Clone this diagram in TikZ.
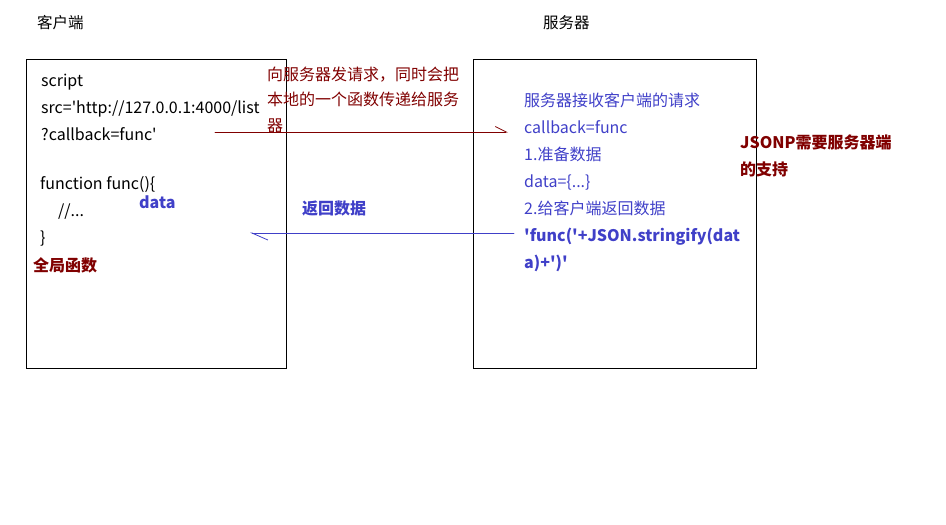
\documentclass[tikz,border=0pt]{standalone}
\usepackage{fontspec}
\setmainfont{Noto Sans CJK SC}[Ligatures=TeXOff]
\usetikzlibrary{arrows.meta,positioning}
\definecolor{darkred}{RGB}{128,0,0}
\definecolor{textblue}{RGB}{64,64,200}

\begin{document}
\begin{tikzpicture}[x=1pt,y=-1pt,line cap=round]
      \useasboundingbox (0,0) rectangle (946,525);

      \coordinate (CA) at (26,59);
      \coordinate (CB) at (286,368);
      \coordinate (SA) at (473,59);
      \coordinate (SB) at (756,368);
      \tikzstyle{mybox}=[line width=1pt, line join=miter];
      \draw[mybox] (CA) rectangle (CB);
      \draw[mybox] (SA) rectangle (SB);

      % multi-line nodes sit on the baseline of their last line
      \tikzstyle{mytext}=[inner sep=0pt, anchor=base west, align=left, font=\fontsize{16}{27}\selectfont];
      \node[mytext, font=\fontsize{15.5}{18}\selectfont] (client) at (37,28) {客户端};
      \node[mytext, font=\fontsize{15.5}{18}\selectfont] (server) at (543,28) {服务器};

      % client side
      \node[mytext] (script) at (41,140) {script\\src='http://127.0.0.1:4000/list\\?callback=func'};
      \node[mytext] (func) at (40,243) {function func()\{\\\hspace*{18pt}//...\\\}};
      \node[mytext, textblue, font=\fontsize{16}{27}\bfseries] (data) at (139,208) {data};
      \node[mytext, darkred, font=\fontsize{16}{27}\bfseries] (global) at (33,271) {全局函数};

      % server side
      \node[mytext, textblue] (recv) at (524,268) {服务器接收客户端的请求\\callback=func\\1.准备数据\\data=\{...\}\\2.给客户端返回数据\\\textbf{'func('+JSON.stringify(dat}\\\textbf{a)+')'}};
      \node[mytext, darkred, font=\fontsize{16}{27}\bfseries] (note) at (740,175) {JSONP需要服务器端\\的支持};

      % request
      \node[mytext, darkred, font=\fontsize{16}{25.5}\selectfont] (send) at (267,131) {向服务器发请求，同时会把\\本地的一个函数传递给服务\\器};
      \coordinate (RA) at (215,132);
      \coordinate (RB) at (508,132);
      \draw[line width=0.9pt, darkred, -{Straight Barb[harpoon,length=11pt,width=11pt,line width=0.8pt]}] (RA) -- (RB);

      % response
      \node[mytext, textblue, font=\fontsize{16}{27}\bfseries] (back) at (302,214) {返回数据};
      \coordinate (BA) at (514,233);
      \coordinate (BB) at (250,233);
      \draw[line width=0.9pt, textblue, -{Straight Barb[harpoon,length=16pt,width=14pt,line width=0.8pt]}] (BA) -- (BB);
\end{tikzpicture}
\end{document}
